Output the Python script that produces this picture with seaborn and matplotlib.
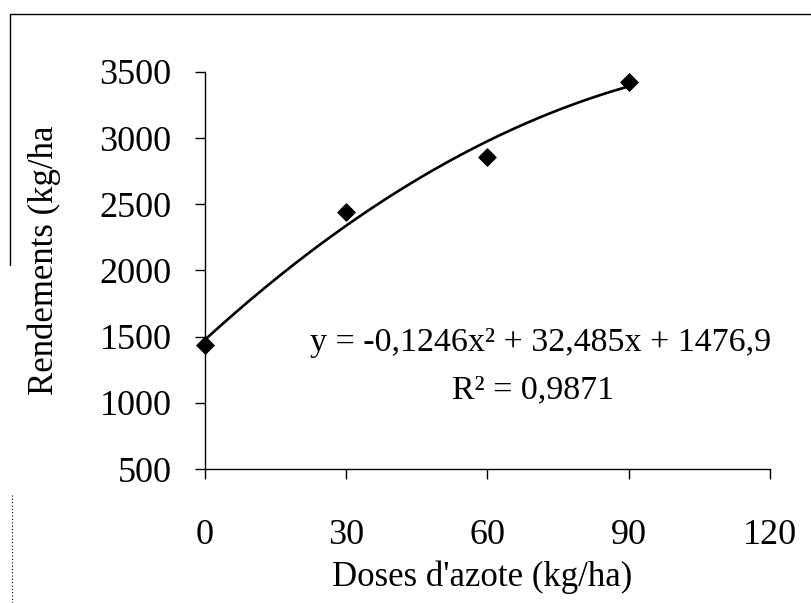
import numpy as np
import pandas as pd
import matplotlib
matplotlib.use("Agg")
import matplotlib.pyplot as plt
from matplotlib.lines import Line2D
import seaborn as sns

# Nitrogen doses (kg/ha) and measured yields (kg/ha)
doses = [0, 30, 60, 90]
rendements = [1440, 2444, 2860, 3428]

# Quadratic trend fitted to the yields
coef_a = -0.1246
coef_b = 32.485
coef_c = 1476.9
r2 = 0.9871

x_ticks = [0, 30, 60, 90, 120]
y_ticks = [500, 1000, 1500, 2000, 2500, 3000, 3500]

sns.set_style("ticks")
plt.rcParams["font.family"] = ["Liberation Serif", "DejaVu Serif"]

W, H = 812, 603
fig = plt.figure(figsize=(W / 100, H / 100), dpi=100)
ax = fig.add_axes([205 / W, 1 - 469 / H, (770 - 205) / W, (469 - 72) / H])

xs = np.linspace(0, 90, 200)
trend = pd.DataFrame({"x": xs, "y": coef_a * xs**2 + coef_b * xs + coef_c})
pts = pd.DataFrame({"dose": doses, "rendement": rendements})

sns.lineplot(data=trend, x="x", y="y", ax=ax, color="black", linewidth=1.9)
sns.scatterplot(data=pts, x="dose", y="rendement", ax=ax, marker="D", s=80,
                color="black", edgecolor="black", zorder=5, clip_on=False)

ax.set_xlim(0, 120)
ax.set_ylim(500, 3500)
ax.set_xticks(x_ticks)
ax.set_yticks(y_ticks)
ax.tick_params(axis="both", direction="out", length=7, width=1.0, color="black",
               labelsize=26, labelcolor="black")
ax.tick_params(axis="y", pad=17)
ax.tick_params(axis="x", pad=29)
sns.despine(ax=ax, top=True, right=True)
for s in ("left", "bottom"):
    ax.spines[s].set_color("black")
    ax.spines[s].set_linewidth(1.0)

ax.set_xlabel("")
ax.set_ylabel("")
fig.text(482 / W, 1 - 577 / H, "Doses d'azote (kg/ha)", fontsize=25,
         ha="center", va="center", color="black")
fig.text(44 / W, 1 - 260 / H, "Rendements (kg/ha", rotation=90, fontsize=25,
         ha="center", va="center", color="black")

eq = f"y = {coef_a:.4f}x² + {coef_b:.3f}x + {coef_c:.1f}".replace(".", ",")
fig.text(541 / W, 1 - 343 / H, eq, fontsize=24.5, ha="center", va="center", color="black")
fig.text(533 / W, 1 - 390 / H, f"R² = {r2:.4f}".replace(".", ","),
         fontsize=24.5, ha="center", va="center", color="black")

# Outer chart frame
fig.add_artist(Line2D([10 / W, 1.0], [1 - 14 / H, 1 - 14 / H],
                      transform=fig.transFigure, color="black", linewidth=1.0))
fig.add_artist(Line2D([10 / W, 10 / W], [1 - 14 / H, 1 - 265 / H],
                      transform=fig.transFigure, color="black", linewidth=1.0))
fig.add_artist(Line2D([12 / W, 12 / W], [1 - 495 / H, 0.0],
                      transform=fig.transFigure, color="black", linewidth=0.8,
                      linestyle=(0, (1, 2))))

fig.savefig("out.png", dpi=100, facecolor="white")
